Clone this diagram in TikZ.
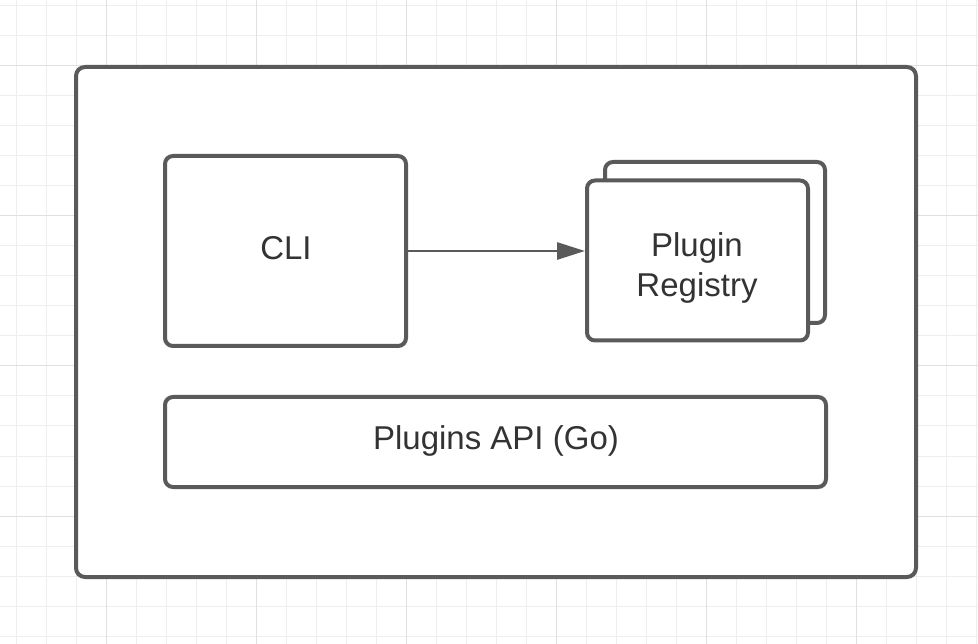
\documentclass[tikz,border=0pt]{standalone}
\usepackage{fontspec}
\setmainfont{Liberation Sans}
\usepackage{tikz}
\usetikzlibrary{positioning,arrows.meta}
\usepackage{xcolor}

\definecolor{edgegray}{HTML}{5A5A5A}
\definecolor{textgray}{HTML}{333333}
\definecolor{gridminor}{HTML}{EEEEEE}
\definecolor{gridmajor}{HTML}{E0E0E0}

\begin{document}
\begin{tikzpicture}[
    x = 1pt,
    y = -1pt,
    > = {Triangle[length=28pt, width=17pt]},
    block/.style={rectangle, draw=edgegray, line width=4pt, rounded corners=8pt,
        fill=white},
    label/.style={text=textgray, font=\fontsize{33}{40}\selectfont, align=center},
    link/.style={->, draw=edgegray, line width=2.8pt}
]
    \useasboundingbox (0,0) rectangle (978,644);
    \fill[white] (0,0) rectangle (978,644);

    % background grid
    \foreach \x in {16,46,...,976}
        \draw[gridminor, line width=1pt] (\x,0) -- (\x,644);
    \foreach \y in {6,36,...,642}
        \draw[gridminor, line width=1pt] (0,\y) -- (978,\y);
    \foreach \x in {106,256,...,976}
        \draw[gridmajor, line width=1pt] (\x,0) -- (\x,644);
    \foreach \y in {66,216,...,642}
        \draw[gridmajor, line width=1pt] (0,\y) -- (978,\y);

    % boxes
    \node[block, rounded corners=9pt, minimum width=840pt, minimum height=510pt] (frame) at (496,322) {};
    \node[block, minimum width=241pt, minimum height=190pt] (cli) at (285.5,251) {};
    \node[label] (clitext) at (286,248) {CLI};
    \node[block, minimum width=220pt, minimum height=161pt] (regback) at (715,242.5) {};
    \node[block, minimum width=221pt, minimum height=160pt] (reg) at (697.5,260.5) {};
    \node[label] (regtext) at (697,268) {Plugin\\Registry};
    \node[block, minimum width=661pt, minimum height=90pt] (api) at (495.5,442) {};
    \node[label] (apitext) at (496,441) {Plugins API (Go)};

    \draw[link] (cli.east) -- (cli.east -| reg.west);
\end{tikzpicture}
\end{document}
